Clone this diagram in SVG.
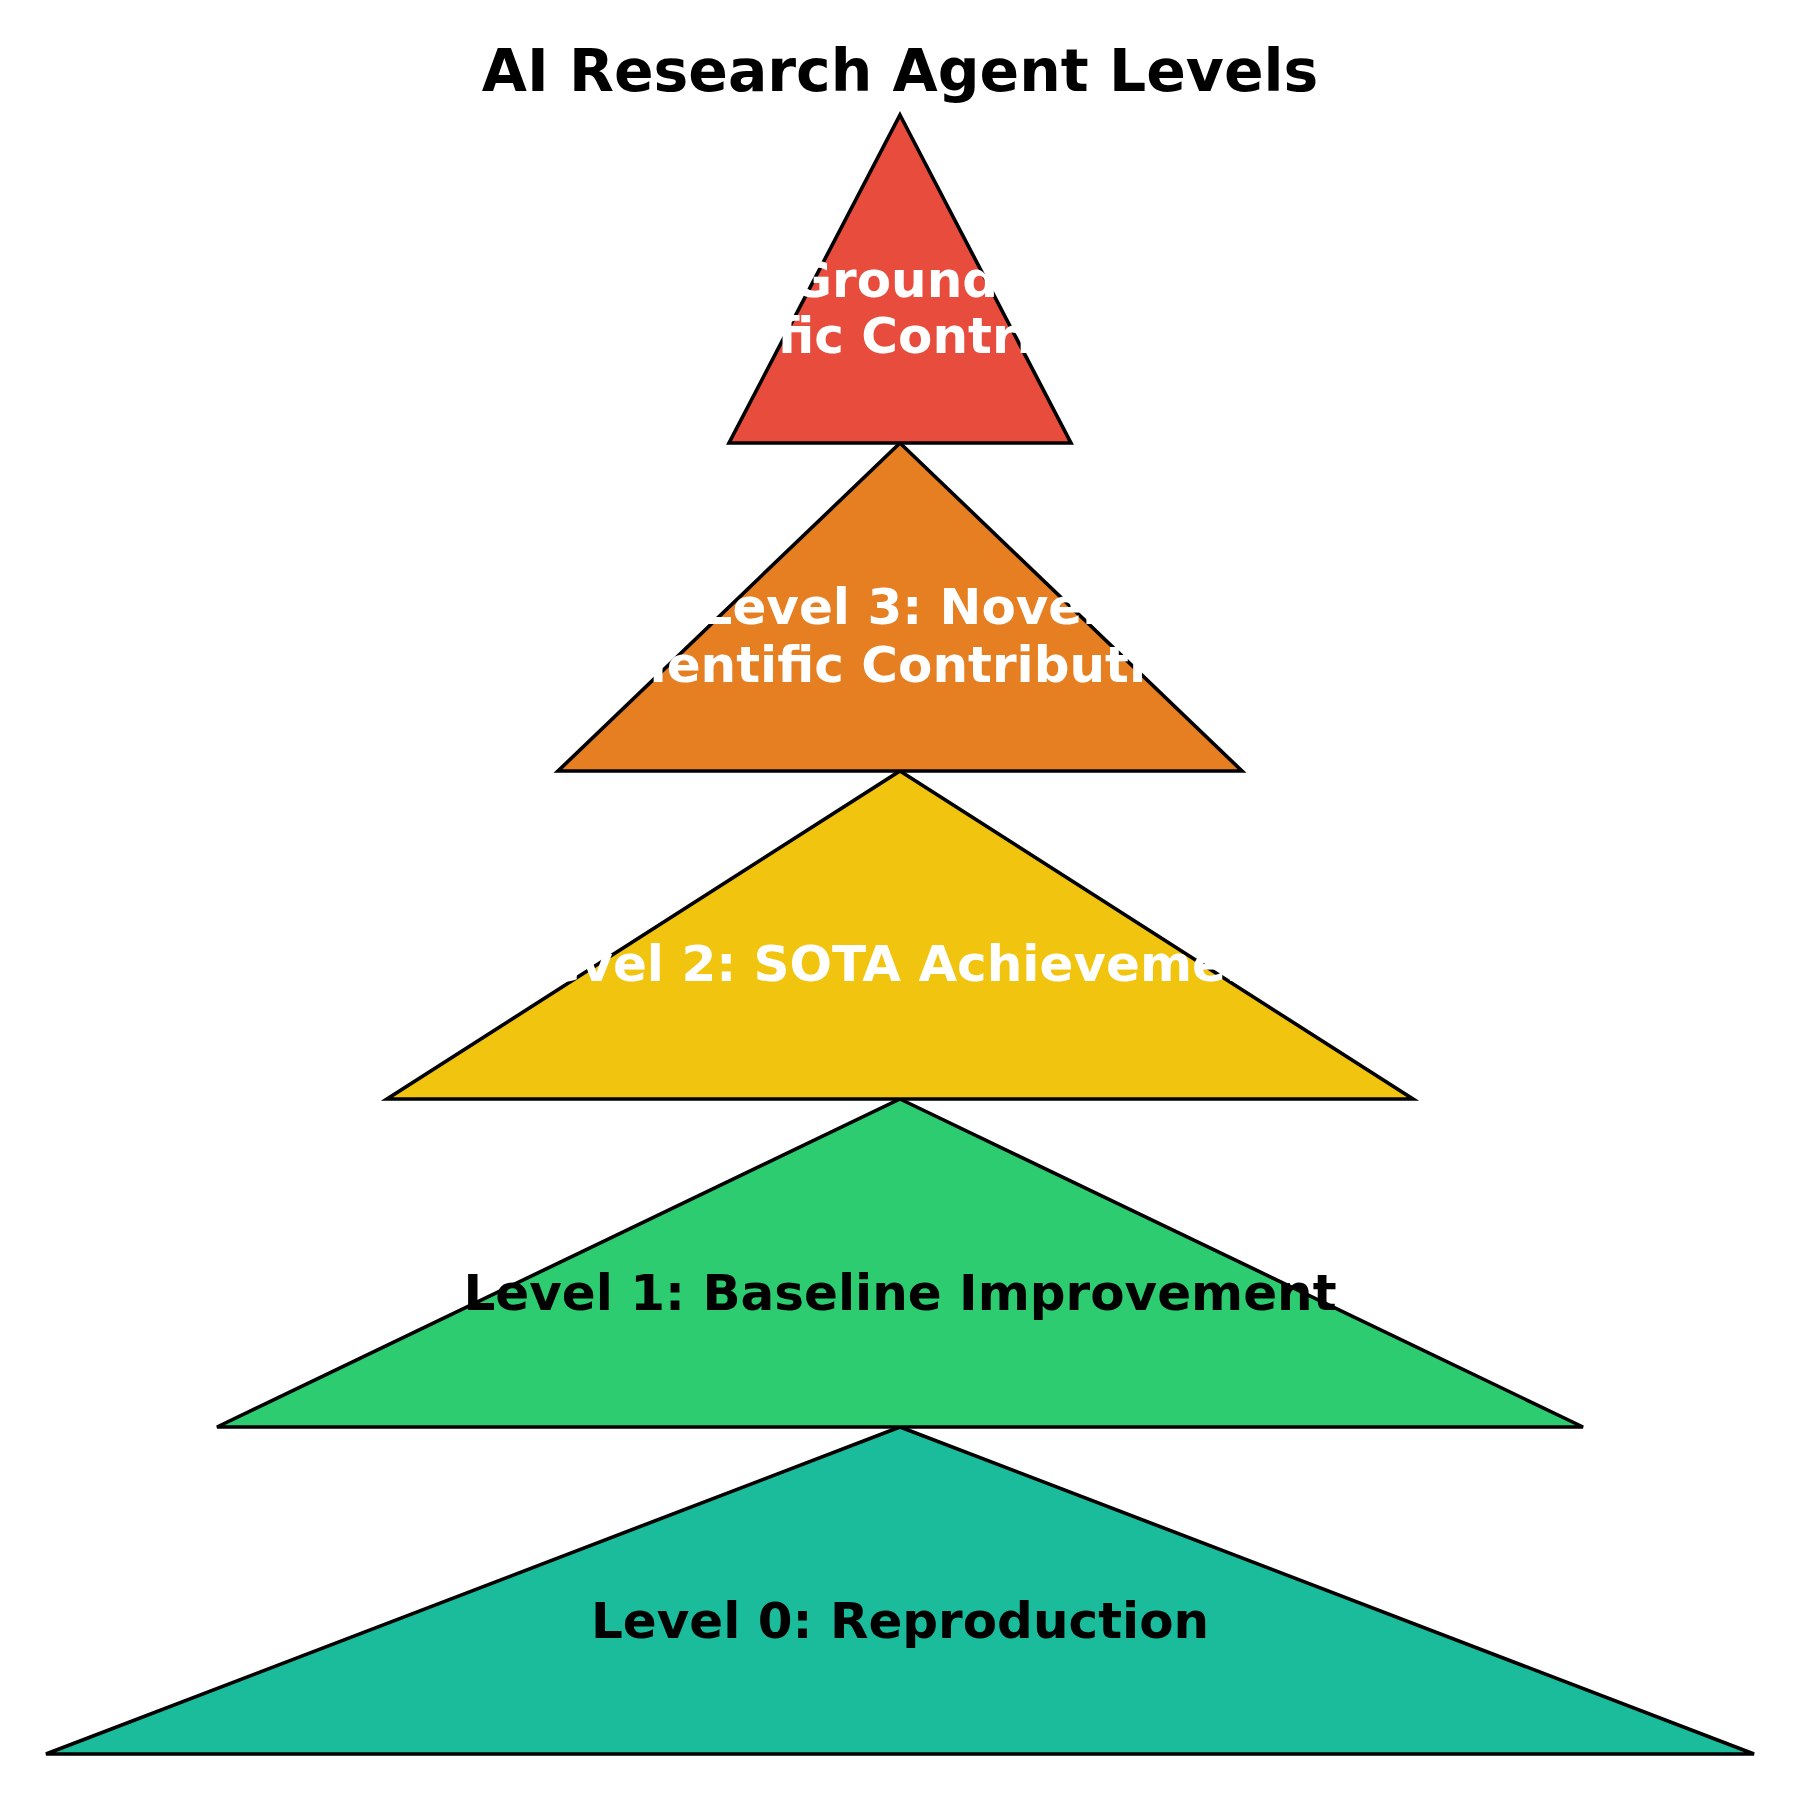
<svg xmlns="http://www.w3.org/2000/svg" width="1800" height="1800" viewBox="0 0 1800 1800">
<style>
.tri{stroke:#000;stroke-width:3.6;stroke-linejoin:miter}
.lbl{font-family:"DejaVu Sans",sans-serif;font-weight:bold;font-size:50px;text-anchor:middle}
.w{fill:#fff}
.k{fill:#000}
.title{font-family:"DejaVu Sans",sans-serif;font-weight:bold;font-size:58.4px;text-anchor:middle;fill:#000}
</style>
<rect width="1800" height="1800" fill="#fff"/>
<text class="title" x="900" y="91">AI Research Agent Levels</text>
<g id="connectors"></g>
<g id="level0">
<polygon class="tri" fill="#1abc9c" points="900,1427 1754,1754 46,1754"/>
<text class="lbl k" x="900" y="1638">Level 0: Reproduction</text>
</g>
<g id="level1">
<polygon class="tri" fill="#2ecc71" points="900,1099 1583,1427 217,1427"/>
<text class="lbl k" x="900" y="1310">Level 1: Baseline Improvement</text>
</g>
<g id="level2">
<polygon class="tri" fill="#f1c40f" points="900,771 1413,1099 387,1099"/>
<text class="lbl w" x="900" y="981">Level 2: SOTA Achievement</text>
</g>
<g id="level3">
<polygon class="tri" fill="#e67e22" points="900,443 1242,771 558,771"/>
<text class="lbl w" x="900" y="624">Level 3: Novel</text>
<text class="lbl w" x="900" y="682">Scientific Contribution</text>
</g>
<g id="level4">
<polygon class="tri" fill="#e74c3c" points="900,115 1071,443 729,443"/>
<text class="lbl w" x="900" y="297">Level 4: Groundbreaking</text>
<text class="lbl w" x="900" y="353">Scientific Contribution</text>
</g>
</svg>
